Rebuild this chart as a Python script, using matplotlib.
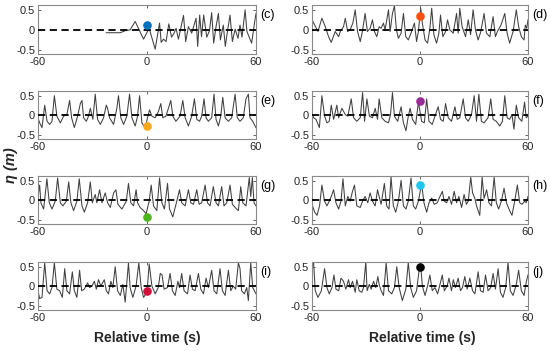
import matplotlib
matplotlib.use("Agg")
import matplotlib.pyplot as plt

plt.rcParams['font.family'] = ['Liberation Sans', 'DejaVu Sans']
plt.rcParams['axes.unicode_minus'] = False

# ---------------- data ----------------
labels = ['(c)', '(d)', '(e)', '(f)', '(g)', '(h)', '(i)', '(j)']
dot_colors = ['#0072BD', '#FF4F0F', '#F7A81B', '#9A2A96', '#4DB51C', '#1EC6F0', '#D0103A', '#000000']
dot_eta = [0.12, 0.35, -0.27, 0.36, -0.42, 0.39, -0.12, 0.49]

t_c = [-22.4, -14.7, -12, -9.3, -6.5, -4.1, -1.9, 1.2, 4.5, 6.9, 7.8, 9.1, 10.5, 12, 13.5, 14.9, 16, 17.3,
       20.1, 21.3, 22.8, 24.6, 27, 27.9, 29, 30, 31.2, 32.9, 34.4, 35.6, 36.7, 38, 39.3, 40.4, 42, 43.1,
       44.4, 45.7, 47, 48.5, 50.1, 51.2, 52.3, 54, 55, 57.6, 59.3, 60]
eta_c = [-0.07, -0.07, -0.02, 0, 0.21, -0.02, -0.23, 0.04, -0.48, 0.17, -0.31, -0.23, -0.29, 0.15, -0.18,
         -0.08, 0.04, -0.23, 0.36, -0.29, 0.08, -0.08, 0.29, -0.41, 0.37, -0.17, 0.37, -0.18, -0.02, 0.43,
         -0.33, 0.08, 0.41, -0.25, 0.12, -0.41, 0, 0.37, -0.29, 0.02, -0.21, 0.12, -0.18, 0.5, -0.04, -0.33,
         0.21, 0.41]

t_d = [-60, -58.5, -56.7, -54.5, -52.6, -50.8, -49.3, -47.1, -45.2, -44.3, -42.5, -41.5, -40.2, -38.8,
       -37.3, -36, -34.7, -33.2, -32, -30.5, -29.2, -27.7, -26.4, -25.3, -24, -22.7, -21.6, -20.3, -19.4,
       -17.5, -16.6, -15.3, -14.2, -13.1, -12, -10.5, -9.2, -7.9, -6.5, -5, -3.1, -1.9, -0.9, 0.4, 1.3,
       2.8, 4.2, 5.5, 6.5, 7.7, 9.2, 10.5, 11.4, 12.7, 14.2, 15.3, 16.6, 18.5, 20.3, 21.2, 22.1, 23.4,
       25.3, 26.8, 28.1, 29.5, 30.8, 32.3, 33.8, 35.6, 36.9, 38.8, 40.6, 41.9, 43, 45, 47.1, 48.4, 49.8,
       51.7, 53.5, 54.8, 56.3, 57.8, 58.5, 59.3, 60]
eta_d = [0.25, 0.12, -0.04, 0.29, 0.08, -0.17, -0.31, -0.04, -0.17, -0.04, 0.08, 0.29, -0.04, 0, 0.17,
         0.5, -0.04, -0.29, -0.04, 0.41, -0.04, 0.04, 0.25, -0.04, -0.17, 0.08, 0.04, 0.17, 0, 0.5, -0.04,
         0.41, 0.6, 0, -0.21, -0.08, 0.41, -0.17, -0.25, -0.08, 0.17, -0.29, -0.04, 0.54, 0.17, -0.25,
         -0.33, 0.04, 0.54, -0.12, -0.33, -0.08, 0.37, -0.17, -0.04, 0.25, 0, -0.08, 0.41, -0.08, 0.54,
         0.08, -0.17, 0.25, -0.12, 0.5, 0, -0.25, -0.04, 0.41, -0.08, -0.17, 0.33, -0.17, -0.04, 0.12,
         0.41, -0.08, -0.33, -0.04, 0.5, 0.08, -0.17, -0.25, 0.12, 0.04, 0.25]

t_e = [-60, -59.1, -57.8, -56.3, -55, -53.6, -52.3, -51, -49.6, -47.7, -45.9, -44.1, -42.6, -41.5, -40,
       -38.2, -36.7, -35.8, -34.9, -33.4, -32.2, -31.2, -29.8, -28.5, -27.2, -25.7, -23.9, -22.4, -21.7,
       -20.6, -18.4, -16.6, -15.7, -14.4, -12.9, -11.1, -9.6, -8.3, -6.5, -5.2, -4.1, -2.8, -1, 0.3, 1.4,
       2.7, 4.5, 6.3, 7.6, 8.7, 10.4, 11.8, 13.1, 14.2, 15.9, 18.2, 19.7, 21, 22.8, 24.6, 26.1, 27.4,
       28.9, 30.1, 31.4, 32.5, 33.8, 35.6, 36.9, 38, 39.3, 40.6, 41.7, 43, 44.8, 46.6, 48.5, 49.7, 51.2,
       53, 54.5, 55.8, 56.7, 58.2, 59.5, 60]
eta_e = [-0.06, -0.19, -0.31, 0.26, -0.15, -0.23, -0.15, 0.5, -0.02, -0.19, -0.02, 0.02, 0.38, -0.06,
         -0.31, -0.02, 0.3, 0.38, -0.06, -0.15, -0.02, 0.18, -0.1, 0.54, -0.1, -0.23, -0.06, 0.26, 0.18,
         -0.06, -0.23, 0.18, 0.5, -0.06, -0.23, -0.02, 0.54, -0.06, -0.27, -0.02, 0.5, -0.19, -0.31, -0.06,
         0.14, -0.02, -0.06, 0.1, 0.3, -0.06, -0.02, 0.18, 0.38, -0.02, -0.15, -0.02, 0.38, -0.06, -0.27,
         -0.02, 0.42, -0.1, -0.15, -0.02, 0.42, -0.06, -0.15, -0.06, 0.54, -0.1, -0.27, -0.02, 0.46, -0.06,
         -0.15, -0.06, 0.54, -0.06, -0.15, -0.06, 0.42, 0.54, -0.06, -0.15, -0.27, -0.31]

t_f = [-60, -59.1, -57.8, -55.9, -54.5, -53, -51.7, -50.4, -49.3, -48, -46.2, -45.2, -43.4, -41.5, -40.1,
       -38.2, -36.9, -35.1, -33.2, -31.9, -30.8, -29.5, -28.1, -26.4, -24.9, -23.6, -22.7, -21.2, -19.4,
       -17.5, -16.4, -15.3, -14.2, -12.4, -10.5, -9.2, -7.8, -6.5, -5.5, -4.2, -2.4, -0.9, 0.9, 2.4, 3.7,
       5, 6.8, 8.3, 10.1, 11.4, 12.9, 14.2, 15.7, 17.5, 19.4, 20.7, 22.1, 24, 25.3, 26.8, 28.6, 30.1,
       31.4, 32.7, 34.1, 35.6, 37.8, 39.3, 40.6, 42.4, 44.3, 45.8, 47.1, 48.4, 49.8, 51.1, 52.2, 53.5,
       54.8, 56.6, 58.1, 59, 60]
eta_f = [0.06, -0.06, -0.1, -0.31, 0.5, -0.02, -0.19, -0.15, 0.26, -0.1, 0.26, -0.06, 0.18, 0.02, -0.02,
         0.42, -0.06, -0.15, -0.06, 0.58, -0.15, 0.42, -0.02, -0.06, 0.18, -0.1, 0.42, -0.06, -0.15, -0.19,
         0.02, 0.58, -0.02, -0.15, 0.22, -0.19, -0.39, -0.02, 0.18, -0.1, -0.23, 0.34, -0.15, -0.19, 0.42,
         -0.15, -0.23, -0.02, 0.22, -0.1, -0.15, 0.3, -0.06, -0.15, 0.22, -0.1, -0.06, 0.42, -0.06, -0.15,
         0.02, 0.5, -0.15, 0.54, -0.15, -0.19, -0.06, 0.42, -0.1, -0.15, -0.27, -0.15, 0.5, -0.06, -0.1,
         0.02, -0.35, 0.26, -0.06, -0.15, 0.34, -0.06, -0.02]

t_g = [-60, -59.1, -58.4, -56.9, -55.1, -53.8, -52.3, -50.5, -49.2, -47.7, -46.3, -44.4, -43.1, -41.9,
       -40.4, -38.6, -37.3, -35.8, -34.5, -32.7, -31.2, -30.1, -28.5, -27.6, -26.1, -24.8, -23, -21.7,
       -20.2, -18.4, -17.1, -16, -13.8, -11.4, -10.2, -8.9, -7.4, -6, -5.2, -3.8, -1.9, -0.5, 1.2, 2.3,
       3.6, 5.4, 6.9, 8.2, 9.6, 11.3, 12.4, 14.2, 16.4, 17.9, 19.1, 21, 22.8, 24.1, 25.6, 27.4, 28.7,
       30.1, 32, 33.3, 34.7, 36.5, 38, 39.3, 41.1, 42.4, 43.9, 45.7, 47, 48.5, 50.3, 51.6, 52.7, 54.5,
       56.3, 57.1, 58, 58.9, 60]
eta_g = [0.1, 0.39, -0.06, -0.22, 0.55, -0.06, -0.22, -0.02, 0.57, -0.06, -0.14, -0.02, 0.47, -0.06,
         -0.26, -0.02, 0.55, -0.14, -0.3, -0.06, 0.47, -0.06, 0.15, -0.06, 0.27, -0.06, 0.19, -0.06, -0.18,
         0.19, 0.27, -0.1, -0.22, -0.02, 0.43, -0.06, -0.14, 0.27, -0.06, -0.18, -0.26, -0.34, -0.02, 0.39,
         -0.14, -0.26, 0.57, -0.06, -0.22, 0.43, -0.22, -0.42, -0.02, 0.27, -0.06, -0.14, 0.27, -0.06, -0.1,
         0.27, -0.1, -0.06, 0.39, -0.06, -0.14, 0.35, -0.06, -0.14, 0.35, -0.14, -0.06, 0.39, -0.1, -0.18,
         -0.26, 0.35, -0.06, -0.14, 0.58, 0.1, 0.58, -0.06, -0.14]

t_h = [-60, -58.5, -57.2, -55.8, -54.5, -53, -51.7, -50.4, -48.9, -48, -46.7, -45.2, -43.9, -42.8, -41.5,
       -40.1, -38.8, -37.5, -36.4, -35.1, -33.2, -31.9, -30.5, -29, -27.7, -26.4, -24.9, -23.6, -22.7,
       -21.6, -19.8, -18.5, -17.2, -16.1, -14.8, -13.5, -12, -10.5, -9.2, -7.8, -6.5, -5, -3.7, -2.4,
       -0.9, 0.9, 2.2, 3.7, 5, 6.5, 7.9, 9.6, 11.1, 12.4, 13.5, 14.8, 16.1, 17.5, 19, 20.3, 21.6, 23.1,
       24.5, 25.8, 26.8, 28.2, 29.2, 30.5, 31.4, 33.2, 34.5, 35.6, 37, 38.3, 39.7, 41.2, 42.4, 43.7, 45.2,
       46.7, 48, 49.8, 51.1, 52.6, 54.1, 55.4, 56.7, 58.1, 59, 60]
eta_h = [-0.1, -0.3, -0.38, -0.14, 0.39, -0.02, -0.14, -0.02, 0.15, 0.27, -0.06, -0.22, -0.02, 0.55,
         -0.14, 0.1, -0.02, 0.23, 0.39, -0.14, -0.18, -0.02, 0.1, -0.06, 0.19, -0.02, -0.14, 0.27, 0.1,
         -0.1, 0.43, -0.14, -0.22, 0.6, -0.14, -0.3, -0.02, 0.51, -0.14, -0.22, -0.02, 0.57, -0.14, -0.22,
         -0.02, 0.43, -0.06, -0.3, -0.06, 0.06, -0.1, -0.06, 0.1, 0.23, -0.02, -0.06, 0.1, -0.1, 0.23,
         -0.06, 0.1, -0.18, 0.15, -0.1, -0.02, 0.59, 0.19, 0.05, -0.14, -0.38, 0.59, 0.05, 0.27, -0.06,
         -0.14, 0.59, -0.06, -0.22, -0.02, 0.31, -0.06, -0.26, -0.38, -0.02, 0.39, -0.06, -0.1, -0.02,
         -0.06, 0.1]

t_i = [-60, -59.1, -57.8, -56.3, -55, -53.6, -52.3, -51, -49.6, -48.1, -46.6, -45.3, -44.1, -42.6, -41.1,
       -40, -38.6, -37.1, -36, -34.5, -32.7, -31.6, -30.3, -29, -27.9, -26.7, -25.4, -23.5, -22.4, -21.2,
       -19.9, -18.8, -17.5, -16.2, -14.7, -13.3, -12, -10.2, -9.3, -7.8, -6, -4.5, -3.2, -1.9, 0, 1.2,
       2.7, 4.5, 6.2, 7.3, 8.3, 9.4, 11.3, 12.7, 14, 15.5, 17, 17.9, 19.1, 20.4, 22.3, 23.7, 25, 26.5,
       28.3, 29.6, 31.1, 32.5, 33.8, 35.6, 36.9, 38.4, 40.2, 41.5, 43, 44.8, 46.1, 47.5, 48.8, 50.3, 51.2,
       52.1, 53.6, 54.9, 55.8, 57.1, 58.2, 60]
eta_i = [-0.11, -0.31, -0.28, 0.6, -0.11, -0.19, -0.03, 0.6, -0.07, -0.11, -0.28, 0.45, -0.11, -0.19,
         0.37, -0.11, -0.28, 0.41, -0.11, -0.07, 0.09, -0.03, 0.01, 0.13, -0.07, 0.17, 0.01, 0.17, -0.11,
         -0.19, 0.13, -0.03, 0.5, -0.11, -0.23, 0.05, -0.4, 0.6, -0.03, -0.28, 0.01, 0.6, -0.03, -0.28,
         -0.15, 0.57, 0.01, -0.19, -0.03, 0.33, 0.29, -0.07, -0.03, 0.33, -0.11, -0.23, 0.13, -0.03, 0.33,
         -0.11, -0.19, 0.29, -0.07, -0.11, 0.33, -0.07, -0.19, 0.21, -0.03, 0.41, -0.11, -0.19, 0.45,
         -0.11, -0.23, 0.41, -0.11, 0.01, -0.07, 0.6, 0.45, -0.11, -0.19, -0.03, -0.36, 0.6, -0.03, -0.19]

t_j = [-60, -59.1, -58.2, -56.7, -54.8, -53, -51.7, -50.4, -48.9, -47.8, -46.7, -45.2, -43.9, -42.5,
       -41.2, -39.7, -38.8, -37.5, -36, -35.1, -33.8, -32.3, -31.4, -30.1, -29.4, -28.2, -27.1, -25.8,
       -24.6, -23.4, -22.7, -21.6, -20.3, -18.8, -17.5, -15.7, -14.2, -12.9, -11.6, -9.8, -7.9, -6.5,
       -5.2, -3.7, -1.9, -0.4, 0.4, 1.3, 2.8, 4.2, 5.5, 6.8, 8.3, 9.8, 11.1, 12.4, 13.5, 15.1, 16.1,
       17.5, 18.5, 19.7, 21.2, 22.5, 23.6, 24.9, 26.2, 27.7, 29.2, 30.5, 32.3, 33.6, 35.1, 36.4, 37.8,
       39.3, 40.6, 41.9, 43.4, 44.7, 46.1, 47.6, 48.9, 50.2, 51.7, 53.5, 54.8, 56.3, 57.8, 59.1, 60]
eta_j = [0.53, 0.6, -0.11, -0.28, -0.11, 0.45, -0.03, -0.19, -0.03, 0.29, -0.07, -0.11, 0.21, 0.13,
         -0.07, 0.17, -0.03, 0.13, -0.15, 0.17, -0.11, -0.15, -0.03, 0.63, -0.11, 0.05, -0.07, 0.13, -0.03,
         0.25, 0.05, -0.11, -0.23, 0.6, -0.11, -0.19, -0.03, 0.5, -0.03, -0.36, -0.07, 0.61, -0.03, -0.28,
         -0.11, 0.45, 0.53, 0.01, -0.23, 0.01, 0.29, -0.11, -0.03, -0.19, 0.05, 0.29, -0.11, 0.01, 0.21,
         -0.11, 0.17, -0.03, 0.21, -0.11, -0.03, 0.25, -0.07, 0.21, -0.11, -0.19, 0.37, -0.11, -0.15, 0.29,
         -0.11, -0.03, 0.33, -0.07, 0.45, -0.15, -0.28, -0.03, 0.61, -0.11, -0.23, 0.05, 0.41, -0.11,
         -0.23, 0.13, 0.29]

series_t = [t_c, t_d, t_e, t_f, t_g, t_h, t_i, t_j]
series_eta = [eta_c, eta_d, eta_e, eta_f, eta_g, eta_h, eta_i, eta_j]

xticks = [-60, 0, 60]
yticks = [-0.5, 0, 0.5]
yticklabels = ['-0.5', '0', '0.5']

# ---------------- figure ----------------
fig = plt.figure(figsize=(5.5, 3.51), dpi=100)
W, H = 550, 351
col_x = [(38, 256), (312, 528)]
row_y = [(5, 54), (91, 139), (176, 224), (262, 310)]
gray = '#262626'

for k in range(8):
    r, c = divmod(k, 2)
    x0, x1 = col_x[c]
    y0, y1 = row_y[r]
    ax = fig.add_axes([x0 / W, 1 - y1 / H, (x1 - x0) / W, (y1 - y0) / H])
    ax.plot(series_t[k], series_eta[k], color='#404040', lw=0.75, zorder=2)
    ax.plot([-60, 60], [0, 0], color='black', lw=1.3, ls=(0, (4, 2.5)), zorder=3)
    ax.plot([0], [dot_eta[k]], 'o', color=dot_colors[k], ms=6.2, mec='none', zorder=4)
    ax.set_xlim(-60, 60)
    ax.set_ylim(-0.6, 0.62)
    ax.set_xticks(xticks)
    ax.set_yticks(yticks)
    ax.set_yticklabels(yticklabels)
    ax.tick_params(direction='in', length=2, width=0.5, labelsize=8, colors=gray, pad=2,
                   top=True, right=True)
    for s in ax.spines.values():
        s.set_color('#8a8a8a')
        s.set_linewidth(0.8)
    ax.text(1.02, 0.8, labels[k], transform=ax.transAxes, fontsize=9, color='black',
            ha='left', va='center')

fig.text(0.267, 0.037, 'Relative time (s)', ha='center', va='center', fontsize=10,
         fontweight='bold', color=gray)
fig.text(0.767, 0.037, 'Relative time (s)', ha='center', va='center', fontsize=10,
         fontweight='bold', color=gray)
fig.text(0.02, 0.53, 'η (m)', rotation=90, ha='center', va='center', fontsize=10.5,
         fontweight='bold', style='italic', color=gray)

fig.savefig('out.png', dpi=100)
